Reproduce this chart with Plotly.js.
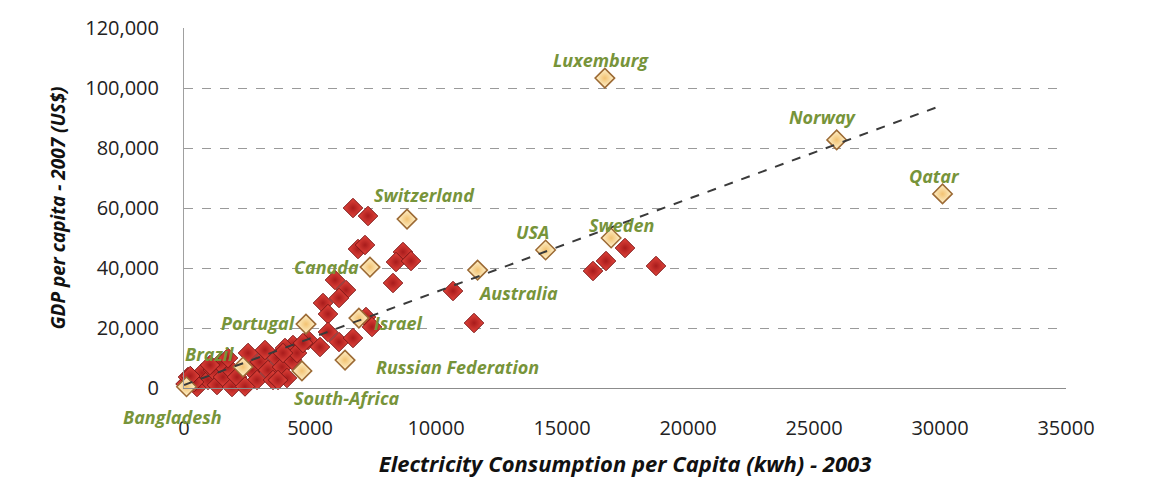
<!DOCTYPE html>
<html>
<head>
<meta charset="utf-8">
<script src="https://cdn.plot.ly/plotly-3.0.1.min.js"></script>
<style>html,body{margin:0;padding:0;background:#fff;}#chart{width:1150px;height:482px;}</style>
</head>
<body>
<div id="chart"></div>
<script>
// ---- data ----
// unlabelled countries: electricity consumption per capita (kWh, 2003) and GDP per capita (US$, 2007)
var otherX = [6706, 7302, 6905, 7183, 8690, 8413, 9008, 8294, 5992, 6429, 6151, 5516, 5714, 7222, 7460,
  5714, 4921, 5397, 6151, 6706, 4325,
  10675, 11508, 16230, 16746, 17500, 18730,
  60, 159, 516, 714, 952, 1151, 1310, 1548, 1746, 1905, 2103, 2540, 2698, 2897, 3016, 3214, 3333,
  3532, 3690, 3889, 4008, 4087, 4286, 4484, 4722, 2420, 1429, 1032, 1746, 3730, 3929, 400, 250];
var otherY = [60000, 57333, 46333, 47667, 45333, 42000, 42333, 35000, 36000, 32667, 30000, 28333, 24667, 23667, 20333,
  18667, 16000, 13667, 15333, 16667, 14333,
  32333, 21667, 39000, 42333, 46667, 40667,
  1333, 3667, 333, 5000, 2667, 6000, 1000, 3667, 7000, 333, 3667, 11667, 6000, 2667, 8667, 12667, 6000,
  2667, 10000, 7000, 13333, 3333, 9333, 11667, 15000, 500, 8333, 7667, 10000, 2667, 11667, 2000, 4000];

// labelled countries
var labelNames = ["Luxemburg", "Norway", "Qatar", "Switzerland", "USA", "Sweden", "Canada", "Australia",
  "Portugal", "Israel", "Russian Federation", "Brazil", "South-Africa", "Bangladesh"];
var labelX = [16700, 25900, 30100, 8850, 14350, 16950, 7380, 11650, 4840, 6940, 6390, 2340, 4680, 100];
var labelY = [103300, 82700, 64700, 56300, 46000, 50000, 40300, 39300, 21300, 23300, 9300, 7000, 5700, 400];

// linear trend line end points
var trendX = [0, 30100];
var trendY = [1000, 94300];

// axis tick values
var yTicks = [0, 20000, 40000, 60000, 80000, 100000, 120000];
var xTicks = [0, 5000, 10000, 15000, 20000, 25000, 30000, 35000];

// ---- label placement (pixel offsets from the point) ----
var labelShift = {
  "Luxemburg": [-4, 18], "Norway": [-14, 23], "Qatar": [-8, 18], "Switzerland": [17, 24],
  "USA": [-13, 18], "Sweden": [10, 13], "Canada": [-43, 0], "Australia": [40, -23],
  "Portugal": [-48, 1], "Israel": [40, -5], "Russian Federation": [112, -7], "Brazil": [-33, 13],
  "South-Africa": [45, -27], "Bangladesh": [-14, -30]
};

var fontFam = "'Open Sans', 'Noto Sans', sans-serif";
var green = "#77943a";

var traces = [
  {
    type: "scatter", mode: "markers", x: otherX, y: otherY, cliponaxis: false,
    marker: { symbol: "diamond", size: 15, color: "#e3443b",
      gradient: { type: "radial", color: "#a81c1c" },
      line: { color: "#7e1616", width: 1 } },
    hoverinfo: "x+y", showlegend: false
  },
  {
    type: "scatter", mode: "markers", x: labelX, y: labelY, text: labelNames, cliponaxis: false,
    marker: { symbol: "diamond", size: 15, color: "#fff3cf",
      gradient: { type: "radial", color: "#f2c272" },
      line: { color: "#9c6a34", width: 1.5 } },
    hoverinfo: "text+x+y", showlegend: false
  },
  {
    type: "scatter", mode: "lines", x: trendX, y: trendY, cliponaxis: false,
    line: { color: "#3a3a3a", width: 2, dash: "dash" },
    hoverinfo: "skip", showlegend: false
  }
];

var annotations = labelNames.map(function (n, i) {
  return {
    x: labelX[i], y: labelY[i], xref: "x", yref: "y", text: n, showarrow: false,
    xshift: labelShift[n][0], yshift: labelShift[n][1],
    font: { family: fontFam, size: 18, color: green, weight: "bold", style: "italic" }
  };
});

var layout = {
  width: 1150, height: 482,
  margin: { l: 184, r: 84, t: 28, b: 94, pad: 0 },
  paper_bgcolor: "#ffffff", plot_bgcolor: "#ffffff",
  font: { family: fontFam, color: "#222222" },
  showlegend: false,
  xaxis: {
    range: [0, 35000], tickvals: xTicks, tickformat: "d",
    showgrid: false, zeroline: false,
    showline: true, linecolor: "#8c8c8c", linewidth: 1,
    ticks: "", ticklabelstandoff: 22,
    tickfont: { family: fontFam, size: 20, color: "#222222" },
    title: { text: "Electricity Consumption per Capita (kwh) - 2003", standoff: 16,
      font: { family: fontFam, size: 22, color: "#111111", weight: "bold", style: "italic" } }
  },
  yaxis: {
    range: [0, 120000], tickvals: yTicks, tickformat: ",d",
    showgrid: true, gridcolor: "#9a9a9a", gridwidth: 1, griddash: "dash",
    zeroline: false, showline: true, linecolor: "#a0a0a0", linewidth: 1,
    ticks: "", ticklabelstandoff: 20,
    tickfont: { family: fontFam, size: 20, color: "#222222" },
    title: { text: "GDP per capita - 2007 (US$)", standoff: 14,
      font: { family: fontFam, size: 19, color: "#111111", weight: "bold", style: "italic" } }
  },
  annotations: annotations
};

Plotly.newPlot("chart", traces, layout, { displayModeBar: false, staticPlot: true });
</script>
</body>
</html>
